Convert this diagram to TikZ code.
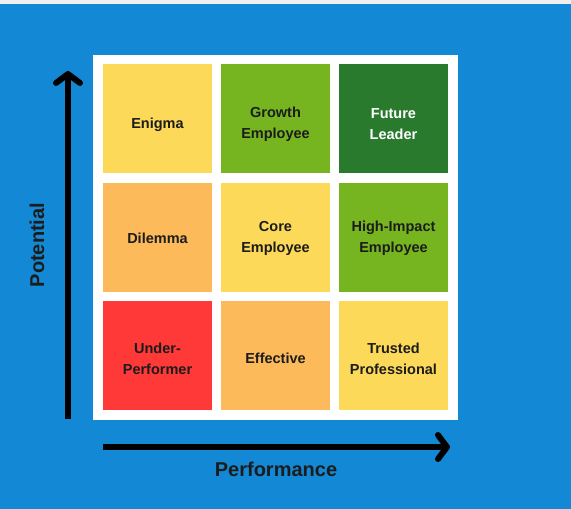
\documentclass[tikz,border=0pt]{standalone}
\usepackage{fontspec}
\setmainfont{Liberation Sans}
\usetikzlibrary{positioning,arrows.meta}
\definecolor{bg}{HTML}{1389D6}
\definecolor{strip}{HTML}{F0F0F0}
\definecolor{ink}{HTML}{1C1C1C}
\definecolor{yellow}{HTML}{FDD95A}
\definecolor{orange}{HTML}{FDBA5A}
\definecolor{red}{HTML}{FF3838}
\definecolor{lime}{HTML}{76B420}
\definecolor{forest}{HTML}{2A7A2E}

\begin{document}
\begin{tikzpicture}[x=1pt,y=-1pt,
  cell/.style={minimum width=109pt,minimum height=109pt,inner sep=0pt},
  celltext/.style={align=center,text=ink,font=\fontsize{14.5}{21}\selectfont\bfseries},
  axis/.style={line width=6pt,-{Straight Barb[length=9pt,width=24pt,round]}},
  axistext/.style={text=ink,font=\fontsize{20}{24}\selectfont\bfseries}]
\fill[bg] (0,0) rectangle (571,509);
\useasboundingbox (0,0) rectangle (571,509);
\fill[strip] (0,0) rectangle (571,4);
\node[fill=white,minimum width=365pt,minimum height=365pt,inner sep=0pt] (panel) at (275.5,237.5){};
% top row
\node[cell,fill=yellow,label={[celltext,yshift=-6pt]center:Enigma}] (enigma) at (157.5,118.5){};
\node[cell,fill=lime,label={[celltext,yshift=-6pt]center:Growth\\Employee}] (growth) at (275.5,118.5){};
\node[cell,fill=forest,label={[celltext,text=white,yshift=-6pt]center:Future\\Leader}] (future) at (393.5,118.5){};
% middle row
\node[cell,fill=orange,label={[celltext,yshift=-1pt]center:Dilemma}] (dilemma) at (157.5,237.5){};
\node[cell,fill=yellow,label={[celltext,yshift=-1pt]center:Core\\Employee}] (core) at (275.5,237.5){};
\node[cell,fill=lime,label={[celltext,yshift=-1pt]center:High-Impact\\Employee}] (impact) at (393.5,237.5){};
% bottom row
\node[cell,fill=red,label={[celltext,yshift=-3pt]center:Under-\\Performer}] (under) at (157.5,355.5){};
\node[cell,fill=orange,label={[celltext,yshift=-3pt]center:Effective}] (effective) at (275.5,355.5){};
\node[cell,fill=yellow,label={[celltext,yshift=-3pt]center:Trusted\\Professional}] (trusted) at (393.5,355.5){};
% axes
\coordinate (yfoot) at (68,419);
\coordinate (ytip) at (68,71);
\coordinate (xfoot) at (103,447);
\coordinate (xtip) at (450,447);
\draw[axis] (yfoot)--(ytip);
\draw[axis] (xfoot)--(xtip);
\node[axistext,rotate=90] (potential) at (37,245){Potential};
\node[axistext] (performance) at (276,469){Performance};
\end{tikzpicture}
\end{document}
